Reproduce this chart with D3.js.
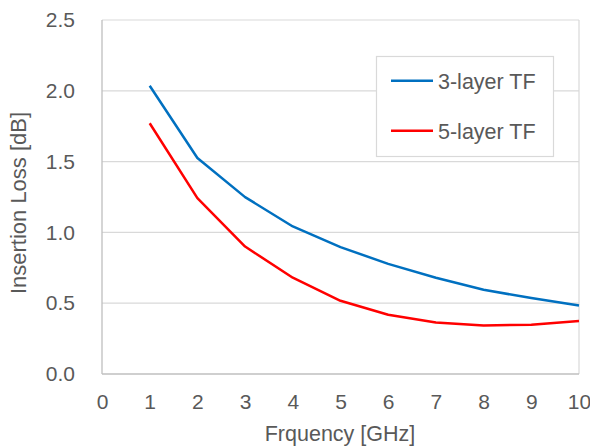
<!DOCTYPE html>
<html><head><meta charset="utf-8">
<script src="https://cdn.jsdelivr.net/npm/d3@7"></script>
<style>body{margin:0;background:#fff}svg{display:block}text{font-family:"Liberation Sans",Arial,sans-serif;fill:#595959}</style>
</head><body><svg id="c" width="590" height="447"></svg>
<script>
const freq = [1,2,3,4,5,6,7,8,9,10];
const tf3 = [2.036,1.525,1.249,1.042,0.896,0.778,0.68,0.595,0.536,0.484];
const tf5 = [1.771,1.242,0.90,0.68,0.517,0.418,0.364,0.343,0.348,0.374];
const seriesNames = ["3-layer TF","5-layer TF"];
const colors = ["#0070C0","#FF0000"];
const xTicks = [0,1,2,3,4,5,6,7,8,9,10];
const yTicks = [0,0.5,1.0,1.5,2.0,2.5];

const svg = d3.select("#c");
const L=102,R=579,T=20,B=374;
const x = d3.scaleLinear().domain([0,10]).range([L,R]);
const y = d3.scaleLinear().domain([0,2.5]).range([B,T]);

// grid
svg.append("g").selectAll("line").data(yTicks.filter(d=>d>0)).join("line")
  .attr("x1",L).attr("x2",R).attr("y1",d=>y(d)).attr("y2",d=>y(d))
  .attr("stroke","#d9d9d9").attr("stroke-width",1.2);
svg.append("line").attr("x1",R).attr("x2",R).attr("y1",T).attr("y2",B).attr("stroke","#d9d9d9").attr("stroke-width",1.2);
svg.append("line").attr("x1",L).attr("x2",L).attr("y1",T).attr("y2",B).attr("stroke","#bfbfbf").attr("stroke-width",1.3);
svg.append("line").attr("x1",L).attr("x2",R).attr("y1",B).attr("y2",B).attr("stroke","#bfbfbf").attr("stroke-width",1.3);

// axes via d3 axis
const yAx = svg.append("g").attr("transform",`translate(${L},0)`)
  .call(d3.axisLeft(y).tickValues(yTicks).tickFormat(d3.format(".1f")).tickSize(0).tickPadding(27));
yAx.select(".domain").remove();
yAx.selectAll("text").attr("font-size",21).style("fill","#595959").attr("font-family","Liberation Sans, Arial, sans-serif");
const xAx = svg.append("g").attr("transform",`translate(0,${B})`)
  .call(d3.axisBottom(x).tickValues(xTicks).tickFormat(d3.format("d")).tickSize(0).tickPadding(20));
xAx.select(".domain").remove();
xAx.selectAll("text").attr("font-size",21).style("fill","#595959").attr("font-family","Liberation Sans, Arial, sans-serif");

// lines
const line = d3.line().x((d,i)=>x(freq[i])).y(d=>y(d));
[tf3,tf5].forEach((s,k)=>{
  svg.append("path").attr("d",line(s)).attr("fill","none").attr("stroke",colors[k])
    .attr("stroke-width",2.5).attr("stroke-linejoin","round");
});

// axis titles
svg.append("text").attr("x",340).attr("y",441).attr("text-anchor","middle").attr("font-size",21.5).text("Frquency [GHz]");
svg.append("text").attr("transform","translate(26,203) rotate(-90)").attr("text-anchor","middle").attr("font-size",22).text("Insertion Loss [dB]");

// legend
svg.append("rect").attr("x",376.5).attr("y",56.5).attr("width",177).attr("height",100)
  .attr("fill","#fff").attr("stroke","#d9d9d9").attr("stroke-width",1.2);
seriesNames.forEach((n,k)=>{
  const ly = 80.7 + k*50;
  svg.append("line").attr("x1",391).attr("x2",433).attr("y1",ly).attr("y2",ly).attr("stroke",colors[k]).attr("stroke-width",2.5);
  svg.append("text").attr("x",438).attr("y",ly+8.6).attr("font-size",21.5).text(n);
});
</script></body></html>
